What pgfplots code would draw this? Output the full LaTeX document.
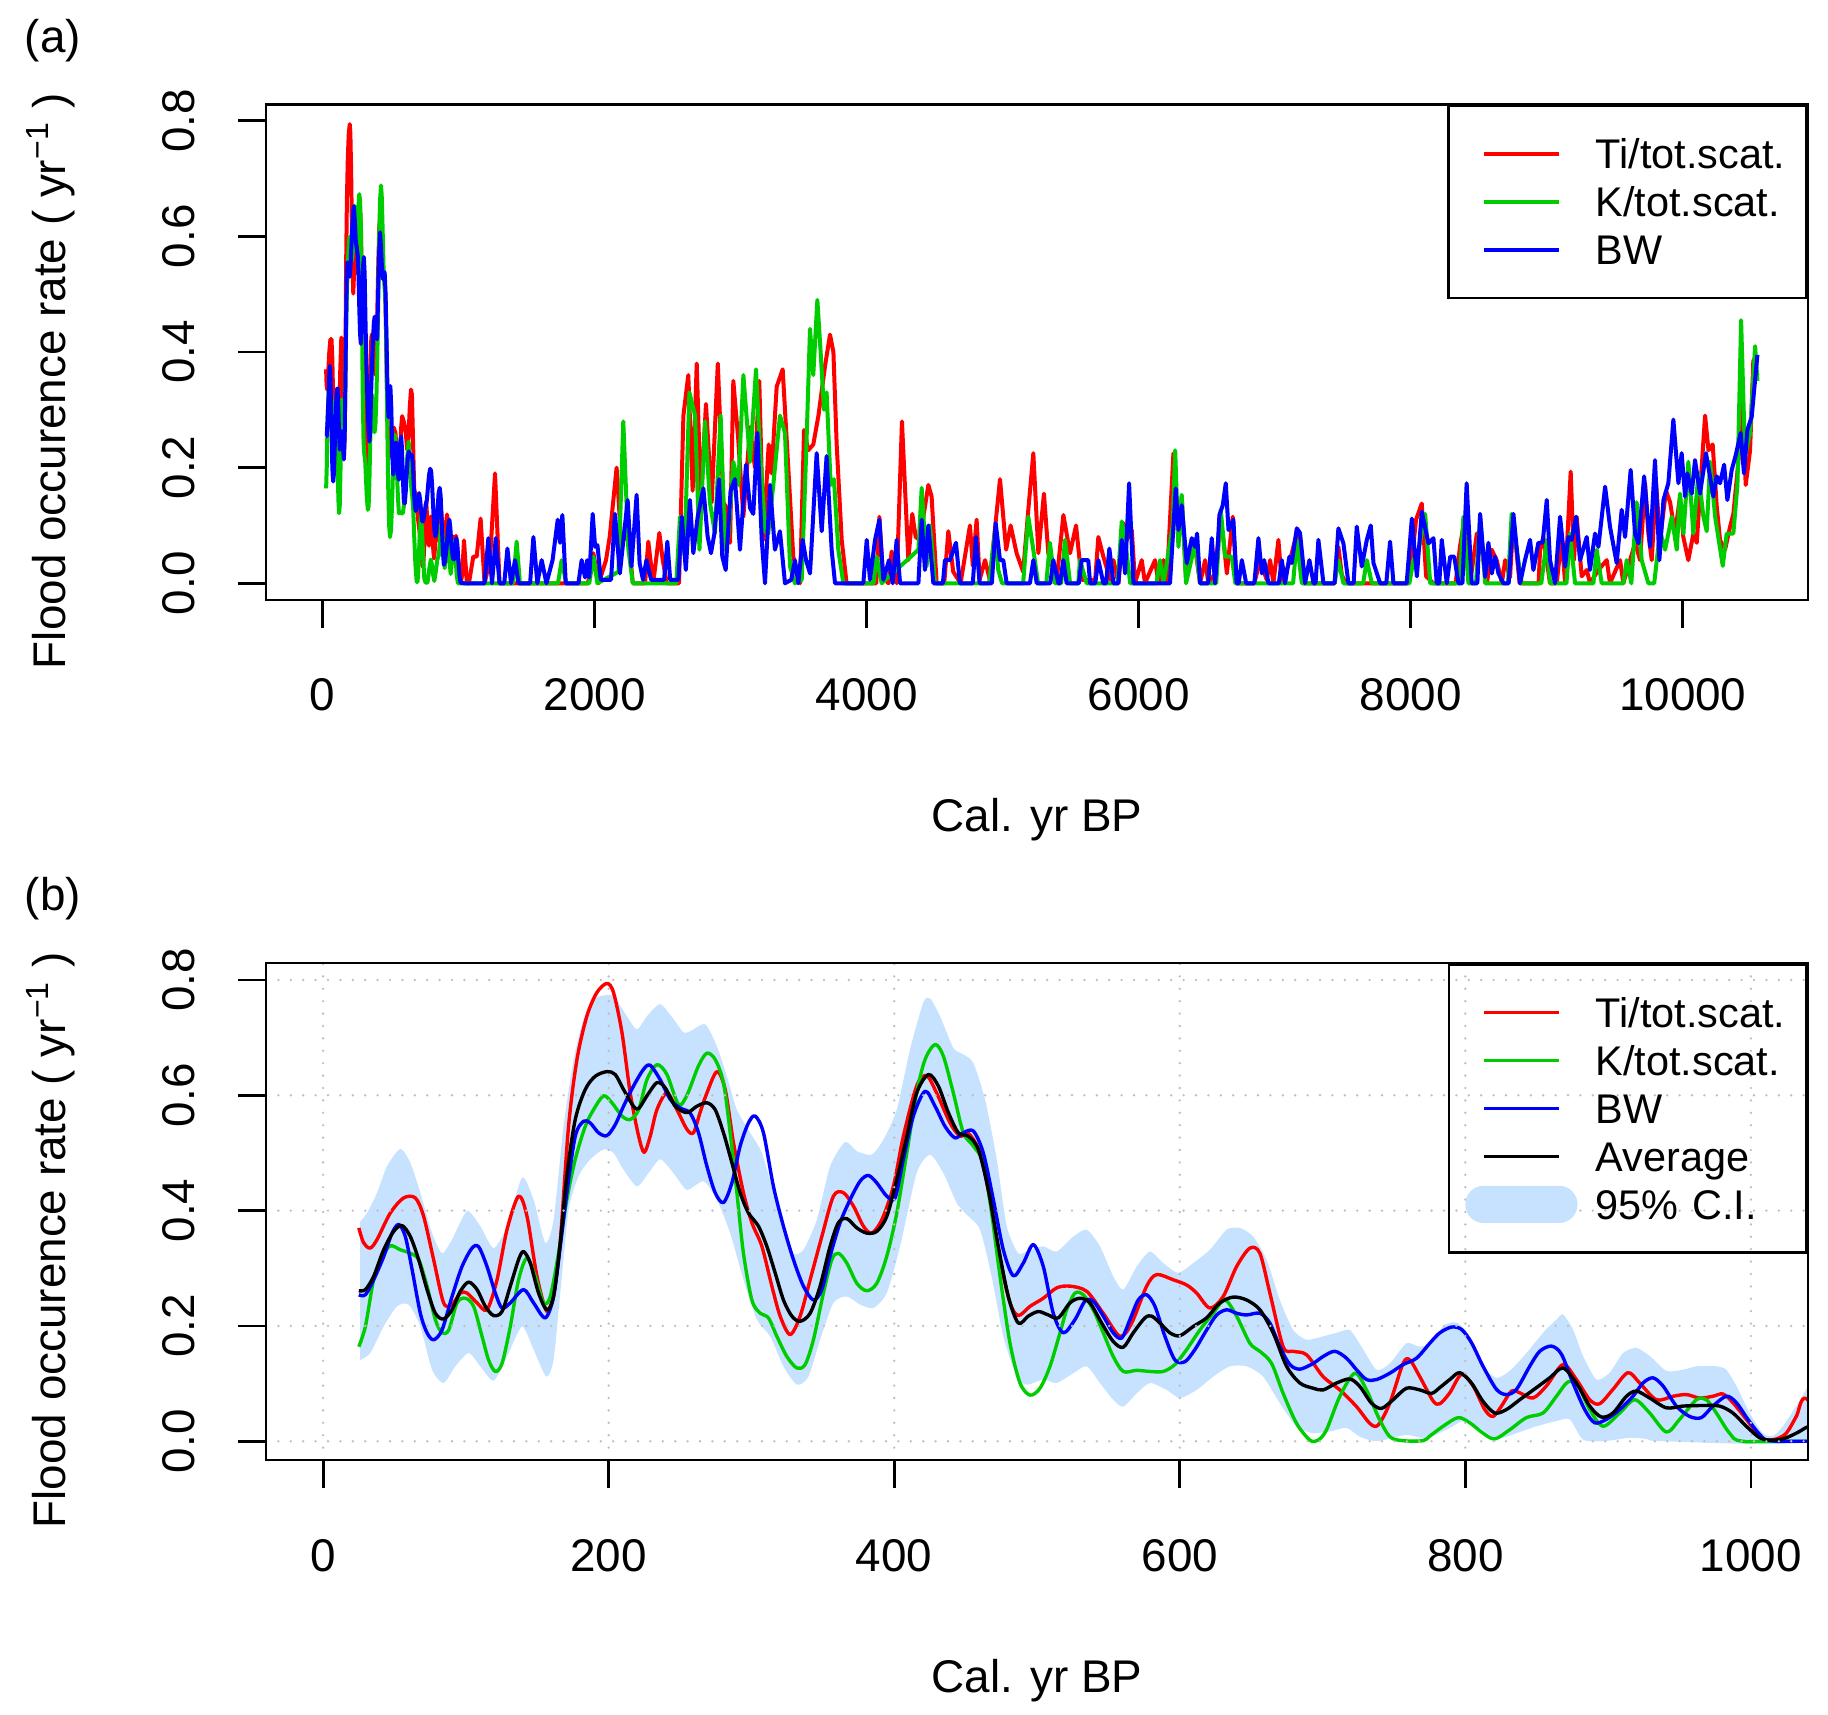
\documentclass[border=0pt]{standalone}
\usepackage{fontspec}
\setmainfont{Liberation Sans}
\usepackage{pgfplots}
\pgfplotsset{compat=1.18}
\usepackage{pgfplotstable}
\definecolor{rred}{RGB}{255,0,0}
\definecolor{rgreen}{RGB}{0,205,0}
\definecolor{rblue}{RGB}{0,0,255}
\definecolor{cibl}{RGB}{198,226,255}
\definecolor{rgrid}{RGB}{190,190,190}

% Ti/tot.scat.
\pgfplotstableread{
x y
25 0.370
28.4 0.344
33 0.335
37.8 0.350
47.1 0.396
56.4 0.422
64.6 0.422
70.4 0.390
77.4 0.315
84.4 0.240
90.3 0.237
96.1 0.257
100.8 0.257
107.8 0.240
114.8 0.228
121.8 0.280
128.8 0.367
136.9 0.425
142.8 0.390
149.8 0.286
156.7 0.225
161.4 0.257
166 0.344
171.9 0.546
177.8 0.662
184.7 0.737
191.7 0.778
198.8 0.794
203.4 0.778
209.3 0.709
215.1 0.604
221 0.529
224.9 0.501
229.1 0.529
233.8 0.575
240.8 0.604
247.8 0.575
254.8 0.541
259.4 0.535
264 0.570
268.8 0.604
275.8 0.641
281.6 0.610
287.4 0.518
294.4 0.431
300.3 0.379
307.3 0.338
314.3 0.269
320.1 0.217
327.1 0.185
334.1 0.217
341.1 0.280
349.3 0.355
357.4 0.425
364.4 0.431
371.4 0.408
378.4 0.373
384.3 0.361
391.3 0.384
399.4 0.442
406.4 0.529
415.7 0.616
422.7 0.634
429.7 0.604
439.1 0.552
446.1 0.529
451.9 0.534
460.1 0.500
467.1 0.419
474.1 0.315
481.1 0.240
486.9 0.218
495.1 0.234
504.4 0.248
513.8 0.266
523.1 0.269
534.8 0.260
546.4 0.222
558.1 0.182
566.3 0.205
576.8 0.269
583.8 0.289
595.4 0.280
604.8 0.271
611.8 0.257
621.1 0.231
630.4 0.251
639.8 0.303
649.1 0.335
656.1 0.326
663.1 0.257
672.4 0.164
679.4 0.156
688.8 0.150
700.4 0.112
712.1 0.089
723.8 0.060
733.1 0.031
738.9 0.028
747.1 0.066
756.4 0.135
761.1 0.141
768.1 0.112
777.4 0.070
782.1 0.065
789.1 0.084
797.3 0.116
805.4 0.096
813.6 0.055
819.4 0.043
825.3 0.061
832.3 0.087
838.1 0.084
847.4 0.075
856.8 0.096
868.4 0.133
877.8 0.107
887.1 0.072
894.1 0.065
903.4 0.090
913.9 0.119
922.1 0.101
933.8 0.072
945.4 0.078
954.8 0.081
964.1 0.075
973.4 0.078
980.4 0.082
987.4 0.067
996.8 0.038
1006.1 0.009
1010.8 0.002
1017.8 0.004
1024.8 0.014
1031.8 0.043
1038.8 0.074
1060 0.0
1075 0.0
1107 0.046
1132 0.046
1161 0.112
1190 0.0
1230 0.04
1267 0.19
1300 0.0
1950 0.0
1990 0.052
2030 0.0
2083 0.04
2110 0.08
2161 0.2
2195 0.07
2247 0.086
2280 0.0
2370 0.0
2394 0.072
2430 0.0
2475 0.087
2500 0.04
2530 0.0
2620 0.0
2652 0.29
2688 0.36
2720 0.16
2750 0.38
2780 0.14
2818 0.31
2860 0.14
2905 0.38
2946 0.14
2970 0.13
2995 0.07
3019 0.35
3055 0.25
3093 0.115
3142 0.27
3178 0.2
3210 0.35
3240 0.075
3279 0.24
3300 0.19
3338 0.34
3382 0.37
3416 0.23
3460 0.046
3510 0.0
3539 0.265
3570 0.23
3607 0.24
3645 0.29
3693 0.375
3730 0.43
3755 0.4
3779 0.24
3816 0.075
3852 0.0
4070 0.0
4093 0.115
4120 0.01
4160 0.0
4183 0.055
4220 0.0
4259 0.28
4306 0.04
4335 0.12
4360 0.08
4390 0.075
4453 0.17
4477 0.15
4514 0.0
4570 0.0
4600 0.09
4636 0.02
4690 0.0
4759 0.1
4780 0.03
4808 0.11
4830 0.006
4870 0.04
4905 0.006
4980 0.18
5025 0.058
5058 0.1
5102 0.052
5150 0.02
5188 0.127
5225 0.225
5262 0.052
5303 0.155
5335 0.052
5397 0.006
5446 0.118
5495 0.052
5539 0.1
5580 0.006
5680 0.006
5703 0.08
5740 0.046
5790 0.006
5814 0.04
5851 0.0
5888 0.104
5912 0.075
5949 0.092
5973 0.0
6022 0.04
6046 0.0
6120 0.04
6145 0.0
6182 0.04
6206 0.0
6255 0.225
6292 0.07
6316 0.15
6348 0.006
6378 0.046
6414 0.063
6451 0.0
6488 0.04
6512 0.0
6561 0.017
6598 0.11
6623 0.075
6648 0.017
6691 0.115
6720 0.0
6850 0.0
6892 0.04
6941 0.006
6966 0.04
6990 0.0
7027 0.075
7052 0.0
7113 0.04
7162 0.087
7211 0.0
7440 0.0
7468 0.063
7493 0.015
7520 0.0
7980 0.0
8008 0.04
8039 0.11
8081 0.138
8113 0.012
8167 0.0
8330 0.0
8363 0.065
8399 0.115
8436 0.0
8486 0.086
8522 0.058
8560 0.0
8595 0.058
8632 0.04
8670 0.0
8694 0.04
8730 0.01
8755 0.11
8800 0.0
8940 0.0
8951 0.058
8975 0.08
9024 0.0
9073 0.0
9110 0.08
9135 0.0
9176 0.193
9200 0.04
9220 0.115
9257 0.012
9294 0.023
9318 0.0
9380 0.023
9441 0.04
9465 0.0
9539 0.04
9563 0.0
9650 0.07
9686 0.04
9723 0.173
9747 0.086
9772 0.04
9804 0.173
9833 0.075
9877 0.16
9907 0.14
9943 0.086
9980 0.15
10004 0.08
10041 0.04
10078 0.086
10103 0.07
10164 0.29
10189 0.23
10220 0.24
10250 0.133
10274 0.075
10311 0.058
10348 0.098
10372 0.12
10409 0.21
10434 0.32
10463 0.17
10495 0.23
10519 0.386
10549 0.36
}\tabred

% K/tot.scat.
\pgfplotstableread{
x y
25 0.164
29.6 0.199
35.4 0.280
41.3 0.320
47.1 0.339
54.1 0.332
61.1 0.326
66.9 0.315
72.8 0.269
78.6 0.211
83.3 0.188
88 0.193
93.8 0.240
99.6 0.248
105.4 0.234
111.3 0.182
115.9 0.141
120.6 0.121
125.3 0.135
131.1 0.199
136.9 0.280
142.8 0.318
148.6 0.286
154.4 0.240
159.1 0.251
164.9 0.326
170.7 0.419
176.6 0.489
183.6 0.546
189.4 0.575
196.4 0.599
202.3 0.587
209.3 0.564
215.1 0.558
221 0.575
226.8 0.627
233.8 0.653
240.8 0.636
248.9 0.584
254.8 0.600
262.9 0.651
268.8 0.673
274.6 0.662
280.4 0.622
285.1 0.535
289.8 0.431
294.4 0.326
300.3 0.245
306.1 0.222
311.9 0.214
317.8 0.182
324.8 0.147
331.8 0.127
337.6 0.133
343.4 0.176
350.4 0.257
356.3 0.315
360.9 0.326
366.8 0.309
373.8 0.274
380.8 0.261
387.8 0.274
394.8 0.321
401.8 0.396
408.8 0.500
415.7 0.604
421.6 0.662
428.6 0.688
434.4 0.668
441.4 0.604
448.4 0.535
455.4 0.512
462.4 0.483
468.2 0.396
474.1 0.286
481.1 0.170
488.1 0.101
495.1 0.080
502.1 0.092
509.1 0.130
516.1 0.188
520.8 0.228
526.6 0.257
532.4 0.254
539.4 0.228
546.4 0.188
553.4 0.147
560.4 0.121
569.8 0.123
579.1 0.121
588.4 0.121
596.6 0.133
604.8 0.159
614.1 0.193
623.4 0.222
631.6 0.245
639.8 0.217
649.1 0.170
656.1 0.156
664.3 0.135
672.4 0.083
681.8 0.031
691.1 0.002
696.9 0.002
702.8 0.020
712.1 0.078
722.6 0.118
730.8 0.089
738.9 0.043
747.1 0.008
756.4 0.001
770.4 0.001
775.1 0.009
784.4 0.026
794.9 0.041
803.1 0.032
812.4 0.014
820.6 0.004
831.1 0.020
842.8 0.041
854.4 0.049
863.8 0.078
871.9 0.103
878.9 0.096
887.1 0.055
896.4 0.026
908.1 0.049
918.6 0.072
929.1 0.049
940.8 0.016
950.1 0.038
961.8 0.072
968.8 0.072
975.8 0.049
985.1 0.014
994.4 0.0
1040 0.0
1400 0.0
1426 0.072
1450 0.0
1730 0.0
1757 0.04
1790 0.0
1960 0.0
1990 0.046
2020 0.0
2175 0.02
2210 0.28
2247 0.06
2280 0.0
2600 0.0
2627 0.115
2660 0.05
2696 0.33
2738 0.29
2770 0.058
2811 0.28
2847 0.14
2884 0.086
2926 0.29
2958 0.058
2982 0.08
3019 0.21
3056 0.17
3093 0.36
3142 0.21
3186 0.37
3215 0.23
3252 0.09
3276 0.086
3313 0.17
3362 0.29
3399 0.26
3436 0.029
3472 0.0
3522 0.006
3554 0.22
3583 0.44
3607 0.36
3637 0.49
3661 0.40
3686 0.3
3705 0.33
3735 0.17
3759 0.18
3791 0.058
3828 0.0
4050 0.0
4073 0.046
4110 0.0
4380 0.058
4404 0.165
4440 0.029
4465 0.1
4502 0.0
4900 0.0
4943 0.09
4967 0.023
4995 0.0
5150 0.0
5188 0.115
5225 0.058
5260 0.0
5320 0.0
5347 0.07
5384 0.0
5430 0.0
5458 0.075
5495 0.0
5555 0.0
5568 0.04
5617 0.0
5845 0.0
5875 0.107
5900 0.075
5937 0.0
6130 0.0
6157 0.04
6182 0.0
6250 0.1
6268 0.23
6292 0.063
6316 0.153
6348 0.0
6414 0.069
6451 0.0
6570 0.0
6603 0.127
6635 0.046
6684 0.046
6710 0.0
7135 0.0
7162 0.075
7199 0.0
7440 0.0
7468 0.04
7505 0.0
7650 0.0
7677 0.04
7714 0.0
7990 0.0
8020 0.04
8060 0.06
8106 0.12
8143 0.0
8360 0.0
8387 0.115
8424 0.0
8480 0.0
8510 0.115
8547 0.0
8715 0.0
8742 0.12
8779 0.058
8816 0.0
8960 0.0
9000 0.075
9024 0.0
9145 0.0
9171 0.086
9208 0.0
9343 0.0
9367 0.058
9404 0.0
9563 0.0
9588 0.04
9622 0.0
9661 0.14
9698 0.04
9747 0.0
9790 0.0
9833 0.09
9870 0.058
9919 0.115
9956 0.058
9980 0.155
10005 0.086
10041 0.21
10078 0.086
10115 0.19
10152 0.115
10176 0.09
10201 0.21
10238 0.115
10294 0.03
10323 0.086
10372 0.086
10402 0.17
10429 0.455
10458 0.22
10495 0.26
10532 0.41
10549 0.35
}\tabgreen

% BW
\pgfplotstableread{
x y
25 0.254
29.6 0.254
35.4 0.280
42.4 0.320
48.3 0.361
53 0.376
57.6 0.355
62.3 0.298
68.1 0.222
72.8 0.188
77.4 0.176
83.3 0.193
90.3 0.251
97.3 0.303
104.3 0.335
109 0.337
114.8 0.303
120.6 0.257
125.3 0.231
131.1 0.240
140.4 0.263
147.4 0.240
155.6 0.214
161.4 0.251
166.1 0.338
170.7 0.431
176.6 0.529
182.4 0.555
187.1 0.552
192.9 0.535
198.8 0.530
204.6 0.549
210.4 0.581
217.4 0.616
224.4 0.645
229.1 0.652
236.1 0.627
243.1 0.593
250.1 0.578
257.1 0.569
262.9 0.535
268.8 0.477
274.6 0.431
280.4 0.414
286.3 0.448
292.1 0.512
297.9 0.552
302.6 0.564
308.4 0.535
315.4 0.442
322.4 0.373
329.4 0.315
336.4 0.269
343.4 0.245
349.3 0.263
355.1 0.321
362.1 0.379
369.1 0.419
376.1 0.451
381.9 0.461
387.8 0.448
394.8 0.425
400.6 0.422
406.4 0.489
413.4 0.564
421.6 0.607
428.6 0.581
435.6 0.546
442.6 0.526
448.4 0.535
455.4 0.538
462.4 0.500
469.4 0.419
476.4 0.332
483.4 0.287
490.4 0.309
497.4 0.341
504.4 0.303
511.4 0.222
518.4 0.188
526.6 0.211
533.6 0.243
539.4 0.243
546.4 0.217
553.4 0.188
559.3 0.179
565.1 0.211
570.9 0.245
576.8 0.254
582.6 0.234
589.6 0.182
596.6 0.141
603.6 0.138
610.6 0.159
618.8 0.193
625.8 0.219
632.8 0.228
639.8 0.222
646.8 0.219
656.1 0.222
663.1 0.205
670.1 0.164
677.1 0.133
684.1 0.125
693.4 0.135
700.4 0.147
708.6 0.156
716.8 0.144
723.8 0.124
730.8 0.107
737.8 0.107
747.1 0.118
756.4 0.133
765.8 0.144
775.1 0.170
782.1 0.188
790.3 0.198
797.3 0.194
804.3 0.171
812.4 0.130
821.8 0.090
828.8 0.081
835.8 0.090
845.1 0.130
852.1 0.156
860.3 0.165
867.3 0.151
875.4 0.101
883.6 0.055
890.6 0.032
898.8 0.038
908.1 0.055
917.4 0.078
924.4 0.101
931.4 0.110
938.4 0.096
947.8 0.061
957.1 0.043
965.3 0.041
973.4 0.061
982.8 0.078
989.8 0.067
997.9 0.038
1006.1 0.012
1013.1 0.001
1040 0.0
1190 0.0
1218 0.078
1245 0.0
1272 0.078
1300 0.0
1335 0.0
1358 0.06
1385 0.0
1414 0.04
1440 0.0
1525 0.0
1549 0.08
1578 0.0
1610 0.04
1645 0.0
1690 0.04
1728 0.11
1745 0.07
1762 0.118
1787 0.0
1880 0.0
1904 0.04
1929 0.01
1945 0.04
1960 0.01
1985 0.12
2003 0.063
2020 0.066
2045 0.006
2120 0.006
2149 0.12
2185 0.017
2242 0.144
2270 0.029
2308 0.153
2330 0.035
2355 0.006
2380 0.04
2415 0.006
2510 0.006
2534 0.072
2555 0.006
2615 0.006
2640 0.115
2670 0.023
2700 0.144
2725 0.052
2757 0.115
2799 0.164
2830 0.081
2855 0.052
2880 0.086
2914 0.18
2938 0.046
2963 0.023
2999 0.16
3031 0.18
3068 0.058
3112 0.205
3142 0.13
3166 0.12
3196 0.26
3228 0.075
3252 0.0
3289 0.17
3325 0.058
3362 0.09
3399 0.0
3445 0.006
3472 0.04
3497 0.0
3529 0.075
3554 0.04
3583 0.017
3632 0.225
3669 0.09
3705 0.22
3742 0.058
3767 0.0
3975 0.0
4000 0.075
4024 0.006
4061 0.075
4093 0.11
4122 0.006
4164 0.04
4191 0.0
4220 0.075
4245 0.0
4380 0.0
4404 0.11
4428 0.023
4453 0.1
4490 0.0
4560 0.0
4575 0.04
4612 0.04
4656 0.07
4685 0.0
4780 0.0
4803 0.08
4830 0.0
4920 0.0
4948 0.104
4980 0.04
5004 0.04
5029 0.0
5200 0.0
5225 0.04
5250 0.0
5350 0.0
5372 0.04
5409 0.0
5421 0.0
5446 0.04
5470 0.0
5560 0.0
5580 0.04
5605 0.04
5629 0.04
5642 0.0
5680 0.0
5703 0.04
5740 0.0
5760 0.0
5784 0.06
5814 0.0
5850 0.0
5875 0.075
5900 0.017
5929 0.173
5961 0.0
6230 0.0
6272 0.164
6292 0.092
6316 0.135
6353 0.035
6390 0.078
6414 0.063
6429 0.086
6451 0.0
6510 0.0
6537 0.078
6561 0.0
6580 0.06
6593 0.118
6618 0.135
6640 0.173
6660 0.092
6696 0.11
6720 0.0
6735 0.0
6758 0.04
6790 0.0
6850 0.0
6880 0.078
6905 0.017
6922 0.04
6954 0.0
7030 0.0
7052 0.04
7076 0.0
7108 0.046
7125 0.035
7162 0.095
7186 0.087
7223 0.0
7255 0.04
7285 0.0
7300 0.0
7321 0.075
7358 0.0
7440 0.0
7468 0.095
7505 0.069
7542 0.0
7580 0.0
7603 0.098
7640 0.029
7677 0.075
7706 0.1
7726 0.035
7775 0.0
7820 0.0
7848 0.072
7873 0.0
7970 0.0
8008 0.112
8045 0.012
8081 0.124
8130 0.069
8167 0.078
8191 0.0
8210 0.0
8228 0.075
8265 0.0
8290 0.046
8320 0.046
8351 0.0
8380 0.0
8411 0.173
8448 0.0
8490 0.0
8510 0.12
8547 0.011
8571 0.07
8596 0.017
8620 0.046
8645 0.017
8681 0.0
8720 0.0
8755 0.12
8804 0.0
8840 0.04
8877 0.075
8902 0.023
8938 0.07
8970 0.07
9000 0.144
9024 0.04
9061 0.0
9098 0.115
9135 0.029
9159 0.08
9183 0.075
9215 0.115
9245 0.04
9294 0.08
9318 0.023
9355 0.086
9380 0.063
9429 0.167
9465 0.098
9514 0.035
9551 0.127
9576 0.08
9617 0.196
9649 0.086
9674 0.069
9716 0.185
9760 0.063
9796 0.213
9828 0.04
9858 0.144
9894 0.173
9931 0.283
9968 0.173
9992 0.225
10017 0.15
10034 0.19
10066 0.155
10090 0.213
10127 0.155
10171 0.225
10200 0.185
10225 0.15
10250 0.185
10274 0.173
10304 0.205
10328 0.144
10360 0.196
10390 0.222
10426 0.26
10450 0.19
10475 0.265
10507 0.288
10532 0.352
10549 0.395
}\tabblue

% Average
\pgfplotstableread{
x y
25 0.261
29.6 0.263
35.4 0.286
42.4 0.332
49.4 0.364
55.3 0.374
61.1 0.355
66.9 0.315
72.8 0.263
78.6 0.222
84.4 0.212
90.3 0.228
96.1 0.260
101.9 0.276
107.8 0.263
113.6 0.234
119.4 0.218
125.3 0.225
131.1 0.269
136.9 0.315
140.4 0.329
145.1 0.309
150.9 0.257
156.7 0.228
161.4 0.251
166.1 0.344
170.7 0.460
176.6 0.558
183.6 0.610
190.6 0.633
198.8 0.641
204.6 0.636
210.4 0.610
217.4 0.581
221 0.577
226.8 0.599
233.8 0.622
239.6 0.613
246.6 0.581
254.8 0.570
261.8 0.581
268.8 0.587
274.6 0.575
280.4 0.535
286.3 0.483
292.1 0.431
297.9 0.396
304.9 0.373
310.8 0.338
316.6 0.292
322.4 0.245
328.3 0.217
334.1 0.208
341.1 0.222
348.1 0.269
355.1 0.338
360.9 0.379
366.8 0.386
373.8 0.370
380.8 0.361
387.8 0.364
394.8 0.390
401.8 0.454
408.8 0.529
415.7 0.604
423.9 0.636
430.9 0.616
437.9 0.570
444.9 0.535
451.9 0.529
458.9 0.506
465.9 0.436
472.9 0.338
479.9 0.251
486.9 0.205
493.9 0.217
500.9 0.225
507.9 0.219
514.9 0.214
523.1 0.240
530.1 0.248
537.1 0.240
545.3 0.205
553.4 0.173
560.4 0.163
567.4 0.188
575.6 0.214
580.3 0.217
586.1 0.205
593.1 0.188
600.1 0.183
609.4 0.199
618.8 0.214
628.1 0.240
637.4 0.250
646.8 0.245
656.1 0.228
665.4 0.188
674.8 0.130
684.1 0.101
693.4 0.092
700.4 0.089
709.8 0.101
719.1 0.108
726.1 0.095
734.3 0.066
741.3 0.057
749.4 0.072
758.8 0.092
768.1 0.089
776.3 0.083
782.1 0.093
789.1 0.107
796.1 0.119
804.3 0.101
812.4 0.069
820.6 0.049
828.8 0.055
838.1 0.072
849.8 0.093
859.1 0.110
868.4 0.127
877.8 0.101
887.1 0.061
895.3 0.042
903.4 0.049
912.8 0.078
919.8 0.087
929.1 0.075
940.8 0.058
952.4 0.061
966.4 0.062
978.1 0.061
987.4 0.049
996.8 0.026
1006.1 0.006
1013.1 0.002
1022.4 0.004
1031.8 0.014
1038.8 0.024
1041 0.025
}\tabavg

% 95% C.I.: upper bound (left to right), then lower bound (right to left)
\pgfplotstableread{
x y
26 0.381
30.8 0.396
37.8 0.431
44.8 0.477
54.1 0.507
61.1 0.483
68.1 0.431
76.3 0.361
83.3 0.326
90.3 0.350
100.8 0.399
110.1 0.373
119.4 0.335
128.8 0.373
139.3 0.457
147.4 0.419
155.6 0.344
161.4 0.384
168.4 0.546
175.4 0.662
182.4 0.732
189.4 0.766
196.4 0.773
203.4 0.772
212.8 0.737
219.8 0.714
226.8 0.737
236.1 0.758
245.4 0.732
252.4 0.709
257.1 0.711
267.6 0.723
275.8 0.685
282.8 0.633
289.8 0.575
299.1 0.535
307.3 0.500
315.4 0.431
322.4 0.373
329.4 0.326
336.4 0.332
345.8 0.384
355.1 0.477
365.6 0.519
373.8 0.503
384.3 0.497
392.4 0.523
401.8 0.575
411.1 0.680
420.4 0.761
425.1 0.768
432.1 0.737
441.4 0.682
448.4 0.671
455.4 0.656
463.6 0.593
471.8 0.489
478.8 0.373
486.9 0.326
495.1 0.332
504.4 0.338
513.8 0.329
525.4 0.355
534.8 0.367
544.1 0.338
553.4 0.286
560.4 0.263
569.8 0.303
579.1 0.329
588.4 0.309
598.9 0.292
609.4 0.309
621.1 0.332
632.8 0.367
642.1 0.370
651.4 0.355
660.8 0.315
670.1 0.245
679.4 0.193
688.8 0.176
700.4 0.182
709.8 0.188
719.1 0.193
727.3 0.164
737.8 0.124
747.1 0.135
758.8 0.170
768.1 0.164
777.4 0.172
784.4 0.200
793.8 0.206
803.1 0.182
812.4 0.130
821.8 0.110
831.1 0.122
842.8 0.153
854.4 0.188
863.8 0.211
868.4 0.220
875.4 0.194
882.4 0.148
891.8 0.107
901.1 0.119
910.4 0.153
919.8 0.162
929.1 0.148
940.8 0.122
952.4 0.124
961.8 0.130
975.8 0.130
982.8 0.124
989.8 0.096
999.1 0.049
1008.4 0.014
1015.4 0.009
1022.4 0.026
1031.8 0.061
1038.8 0.090
1041 0.095
1041 0.0
938.4 0.0
926.8 0.004
915.1 0.006
896.4 0.0
882.4 0.003
873.1 0.038
863.8 0.035
849.8 0.026
835.8 0.014
821.8 0.004
810.1 0.023
798.4 0.035
789.1 0.023
772.8 0.005
758.8 0.011
737.8 0.0
726.1 0.008
716.8 0.023
705.1 0.017
693.4 0.014
681.8 0.025
670.1 0.066
658.4 0.112
646.8 0.130
635.1 0.130
623.4 0.112
611.8 0.089
600.1 0.075
590.8 0.089
579.1 0.101
569.8 0.083
560.4 0.060
553.4 0.072
544.1 0.101
534.8 0.130
525.4 0.118
513.8 0.101
504.4 0.107
492.8 0.098
485.8 0.112
476.4 0.182
468.2 0.286
460.1 0.367
450.8 0.393
443.8 0.413
434.4 0.465
425.1 0.497
415.7 0.465
404.1 0.338
394.8 0.257
385.4 0.231
376.1 0.237
366.8 0.251
357.4 0.240
348.1 0.176
339.9 0.112
331.8 0.098
322.4 0.130
313.1 0.182
303.8 0.211
294.4 0.280
285.1 0.361
275.8 0.419
266.4 0.451
254.8 0.436
245.4 0.465
236.1 0.489
227.9 0.465
219.8 0.442
210.4 0.471
203.4 0.500
196.4 0.506
187.1 0.489
179 0.460
172 0.402
166.1 0.257
161.4 0.141
156.3 0.112
147.4 0.159
139.3 0.199
128.8 0.147
119.4 0.105
110.1 0.130
101.9 0.153
92.6 0.130
84.4 0.101
76.3 0.124
68.1 0.199
59.9 0.237
51.7 0.234
42.4 0.199
33 0.153
26 0.141
}\tabci

\newcommand{\axfont}{\fontsize{11.5}{13.8}\selectfont}
\pgfplotsset{
  legend image code/.code={%
    \path[draw=none,fill=none] (-8.75bp,0bp) -- (18.75bp,0bp);
    \draw[#1] (0bp,0bp) -- (18.75bp,0bp);
  },
}
\pgfplotsset{
  Rax/.style={
    scale only axis,
    width=385.5bp,
    axis line style={line width=0.7bp},
    every tick/.style={line width=0.7bp, black},
    tick align=outside,
    tick pos=left,
    major tick length=7bp,
    scaled x ticks=false,
    scaled y ticks=false,
    /pgf/number format/assume math mode=true,
    tick label style={font=\axfont},
    xticklabel style={anchor=base, yshift=-20.75bp, /pgf/number format/set thousands separator={}},
    yticklabel style={xshift=-10.8bp, rotate=90, anchor=base,
      /pgf/number format/fixed, /pgf/number format/fixed zerofill, /pgf/number format/precision=1},
    every axis x label/.style={at={(axis description cs:0.5,0)}, yshift=-58bp, anchor=base, font=\axfont},
    every axis y label/.style={at={(axis description cs:0,0.5)}, xshift=-50.1bp, yshift=-7.2bp, rotate=90, anchor=base, font=\axfont},
    every axis title/.style={at={(axis description cs:0,1)}, xshift=-53.25bp, yshift=13bp, anchor=base, font=\axfont},
    xlabel={Cal. yr BP},
    ylabel={Flood occurence rate ( yr\textsuperscript{−1} )},
    legend style={at={(1,1)}, anchor=north east, draw=black, line width=0.7bp, fill=none,
      inner xsep=0pt, inner ysep=6bp, row sep=0pt, column sep=8.75bp,
      font=\fontsize{10.4}{12}\selectfont, cells={anchor=west},
      nodes={inner sep=0pt, text height=9.72bp, text depth=2.28bp, text width=52.75bp, align=left}},
    ytick={0,0.2,0.4,0.6,0.8},
  },
}

\begin{document}
\begin{tikzpicture}
\useasboundingbox (0,0) rectangle (457bp,428.75bp);
% ---------------- panel (a)
\begin{axis}[Rax,
  at={(66.5bp,278.75bp)}, anchor=south west,
  height=123.85bp,
  xmin=-417, xmax=10921, ymin=-0.0289, ymax=0.8278,
  xtick={0,2000,4000,6000,8000,10000},
  title={(a)},
]
\addplot[rred, line width=1bp, line join=round] table[x=x,y=y] {\tabred};
\addlegendentry{Ti/tot.scat.}
\addplot[rgreen, line width=1bp, line join=round] table[x=x,y=y] {\tabgreen};
\addlegendentry{K/tot.scat.}
\addplot[rblue, line width=1bp, line join=round] table[x=x,y=y] {\tabblue};
\addlegendentry{BW}
\end{axis}
% ---------------- panel (b)
\begin{axis}[Rax,
  at={(66.5bp,63.75bp)}, anchor=south west,
  height=124.25bp,
  xmin=-40, xmax=1040, ymin=-0.0325, ymax=0.8294,
  xtick={0,200,400,600,800,1000},
  title={(b)},
  axis on top,
  grid=major,
  major grid style={draw=rgrid, line width=0.65bp, line cap=round, dash pattern=on 0pt off 3.1bp},
]
\addplot[fill=cibl, draw=none, forget plot, smooth, tension=0.4] table[x=x,y=y] {\tabci} -- cycle;
\addplot[rred, line width=0.85bp, line join=round, smooth, tension=0.5] table[x=x,y=y] {\tabred};
\addlegendentry{Ti/tot.scat.}
\addplot[rgreen, line width=0.85bp, line join=round, smooth, tension=0.5] table[x=x,y=y] {\tabgreen};
\addlegendentry{K/tot.scat.}
\addplot[rblue, line width=0.85bp, line join=round, smooth, tension=0.5] table[x=x,y=y] {\tabblue};
\addlegendentry{BW}
\addplot[black, line width=0.85bp, line join=round, smooth, tension=0.5] table[x=x,y=y] {\tabavg};
\addlegendentry{Average}
\addlegendimage{legend image code/.code={%
    \path[draw=none,fill=none] (-8.75bp,0bp) -- (18.75bp,0bp);
    \fill[cibl, draw=none, overlay, rounded corners=4.6bp] (-4.65bp,-4.65bp) rectangle (23.4bp,4.65bp);
  }}
\addlegendentry{95\% C.I.}
\end{axis}
\end{tikzpicture}
\end{document}
